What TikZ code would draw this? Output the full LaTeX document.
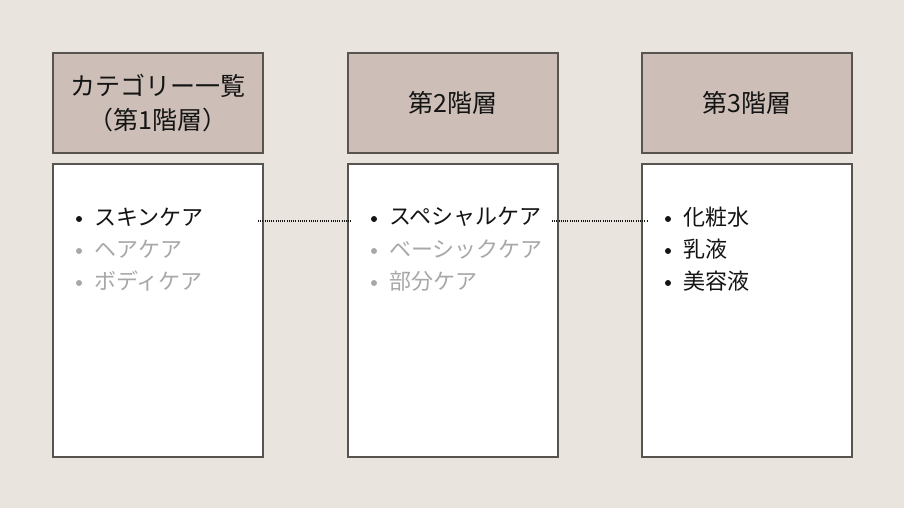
\documentclass[tikz,border=0pt]{standalone}
\usepackage{fontspec}
\setmainfont{Noto Sans CJK JP}
\definecolor{bgc}{RGB}{233,228,222}
\definecolor{headc}{RGB}{205,191,183}
\definecolor{edgec}{RGB}{88,84,80}
\definecolor{dimc}{RGB}{168,168,168}
\definecolor{inkc}{RGB}{20,20,20}
\tikzset{
  headbox/.style={draw=edgec, line width=1.8pt, fill=headc, minimum width=210pt, minimum height=100pt, inner sep=0pt, anchor=north west, font=\fontsize{25}{34}\selectfont, text=inkc, align=center},
  bodybox/.style={draw=edgec, line width=1.8pt, fill=white, minimum width=210pt, minimum height=293pt, inner sep=0pt, anchor=north west},
  item/.style={anchor=west, inner sep=0pt, font=\fontsize{22}{26}\selectfont, text=inkc},
  dimitem/.style={item, text=dimc},
  dotline/.style={draw=inkc, dash pattern=on 1pt off 1.2pt, line width=1.2pt},
}
\newcommand{\bul}[2]{\fill[#2] (#1) circle (3pt);}
\begin{document}
\begin{tikzpicture}[x=1pt,y=-1pt]
\fill[bgc] (0,0) rectangle (904,508);
\useasboundingbox (0,0) rectangle (904,508);
% headers
\node[headbox] (h1) at (52,52) {カテゴリー一覧\\（第1階層）};
\node[headbox] (h2) at (347,52) {第2階層};
\node[headbox] (h3) at (641,52) {第3階層};
% bodies
\node[bodybox] (b1) at (52,163) {};
\node[bodybox] (b2) at (347,163) {};
\node[bodybox] (b3) at (641,163) {};
% column 1
\node[item] (a1) at (94,217) {スキンケア};
\node[dimitem] (a2) at (94,249) {ヘアケア};
\node[dimitem] (a3) at (94,281) {ボディケア};
\bul{79,219}{inkc}
\bul{79,251}{dimc}
\bul{79,283}{dimc}
% column 2
\node[item] (c1) at (389,217) {スペシャルケア};
\node[dimitem] (c2) at (389,249) {ベーシックケア};
\node[dimitem] (c3) at (389,281) {部分ケア};
\bul{374,219}{inkc}
\bul{374,251}{dimc}
\bul{374,283}{dimc}
% column 3
\node[item] (d1) at (683,217) {化粧水};
\node[item] (d2) at (683,249) {乳液};
\node[item] (d3) at (683,281) {美容液};
\bul{668,219}{inkc}
\bul{668,251}{inkc}
\bul{668,283}{inkc}
% connectors
\coordinate (p1) at (258,221);
\coordinate (q1) at (352,221);
\coordinate (p2) at (552,221);
\coordinate (q2) at (648,221);
\draw[dotline] (p1) -- (q1);
\draw[dotline] (p2) -- (q2);
\end{tikzpicture}
\end{document}
